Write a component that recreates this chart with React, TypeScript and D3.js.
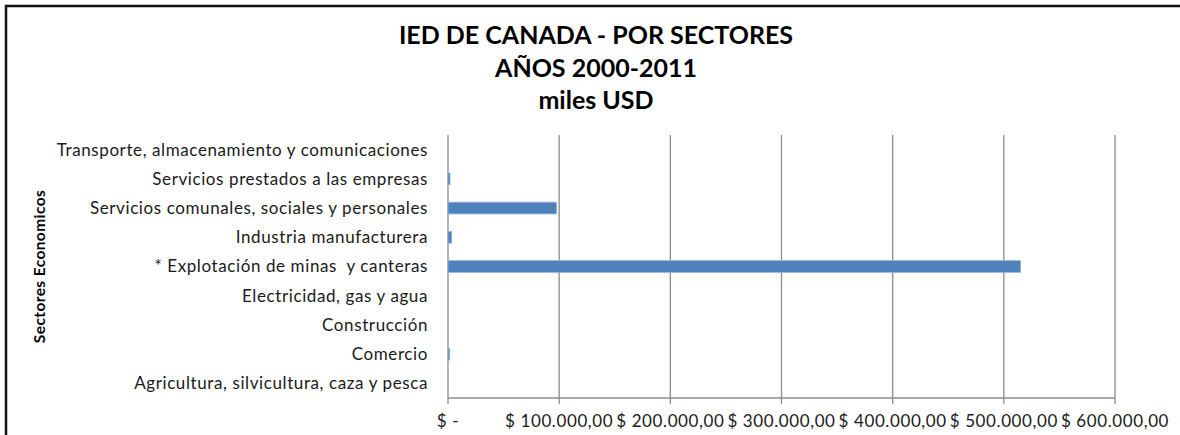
import React, { useEffect, useRef } from 'react'
import * as d3 from 'd3'

// sectores (de abajo hacia arriba, como en la hoja)
const sectores = [
  'Agricultura, silvicultura, caza y pesca',
  'Comercio',
  'Construcción',
  'Electricidad, gas y agua',
  '* Explotación de minas  y canteras',
  'Industria manufacturera',
  'Servicios comunales, sociales y personales',
  'Servicios prestados a las empresas',
  'Transporte, almacenamiento y comunicaciones',
]
// miles USD
const ied = [0, 1500, 0, 0, 515000, 3300, 97700, 1800, 0]
const xTicks = [0, 100000, 200000, 300000, 400000, 500000, 600000]
const titulo = ['IED DE CANADA - POR SECTORES', 'AÑOS 2000-2011', 'miles USD']
const ejeY = 'Sectores Economicos'

const App = () => {
  const ref = useRef<SVGSVGElement>(null)
  const width = 1180
  const height = 435
  const left = 448
  const right = 1115
  const top = 135
  const bottom = 398

  useEffect(() => {
    const svg = d3.select(ref.current)
    svg.selectAll('*').remove()

    const x = d3.scaleLinear().domain([0, 600000]).range([left, right])
    const y = d3.scaleBand().domain(sectores.slice().reverse()).range([top, bottom]).paddingInner(0.6).paddingOuter(0.3)

    const locale = d3.formatLocale({ decimal: ',', thousands: '.', grouping: [3], currency: ['$', ''] })
    const fmt = locale.format(',.2f')
    const tickLabel = (v: number) => (v === 0 ? '$ -' : `$ ${fmt(v)}`)

    // marco
    svg.append('path')
      .attr('d', `M6,${height} L6,6 L${width},6`)
      .attr('fill', 'none')
      .attr('stroke', '#111')
      .attr('stroke-width', 2.5)

    // titulo
    svg.append('g')
      .attr('font-family', 'Lato, sans-serif')
      .attr('font-weight', 'bold')
      .attr('font-size', 25)
      .attr('text-anchor', 'middle')
      .selectAll('text')
      .data(titulo)
      .join('text')
      .attr('x', 596)
      .attr('y', (d, i) => 44 + i * 32.5)
      .attr('fill', '#000')
      .text(d => d)

    // grid
    svg.append('g')
      .selectAll('line')
      .data(xTicks)
      .join('line')
      .attr('x1', d => x(d))
      .attr('x2', d => x(d))
      .attr('y1', top)
      .attr('y2', bottom + 6)
      .attr('stroke', '#8c8c8c')
      .attr('stroke-width', 1.3)

    svg.append('line')
      .attr('x1', left).attr('x2', right)
      .attr('y1', bottom).attr('y2', bottom)
      .attr('stroke', '#8c8c8c')
      .attr('stroke-width', 1.3)

    // barras
    svg.append('g')
      .selectAll('rect')
      .data(sectores.map((s, i) => ({ s, v: ied[i] })).filter(d => d.v > 0))
      .join('rect')
      .attr('x', left)
      .attr('y', d => y(d.s)!)
      .attr('width', d => x(d.v) - left)
      .attr('height', y.bandwidth())
      .attr('fill', '#4f81bd')
      .attr('stroke', '#8fb0d8')
      .attr('stroke-width', 0.8)

    // etiquetas de categoria
    svg.append('g')
      .attr('font-family', 'Lato, sans-serif')
      .attr('font-size', 17)
      .attr('letter-spacing', 0.6)
      .attr('text-anchor', 'end')
      .selectAll('text')
      .data(sectores)
      .join('text')
      .attr('xml:space', 'preserve')
      .style('white-space', 'pre')
      .attr('x', 428)
      .attr('y', d => y(d)! + y.bandwidth() / 2)
      .attr('dy', '0.35em')
      .attr('fill', '#1a1a1a')
      .text(d => d)

    // etiquetas eje x
    svg.append('g')
      .attr('font-family', 'Lato, sans-serif')
      .attr('font-size', 17)
      .attr('letter-spacing', 0.6)
      .attr('text-anchor', 'middle')
      .selectAll('text')
      .data(xTicks)
      .join('text')
      .attr('x', d => x(d))
      .attr('y', 421)
      .attr('dy', '0.35em')
      .attr('fill', '#1a1a1a')
      .text(d => tickLabel(d))

    // titulo eje y
    svg.append('text')
      .attr('transform', `translate(40,${(top + bottom) / 2}) rotate(-90)`)
      .attr('text-anchor', 'middle')
      .attr('dy', '0.35em')
      .attr('font-family', 'Lato, sans-serif')
      .attr('font-weight', 'bold')
      .attr('font-size', 15.5)
      .attr('letter-spacing', 0.4)
      .attr('fill', '#000')
      .text(ejeY)
  }, [])

  return (
    <svg
      ref={ref}
      width={width}
      height={height}
      style={{ position: 'absolute', left: 0, top: 0, background: '#fff', display: 'block' }}
    />
  )
}

export default App
